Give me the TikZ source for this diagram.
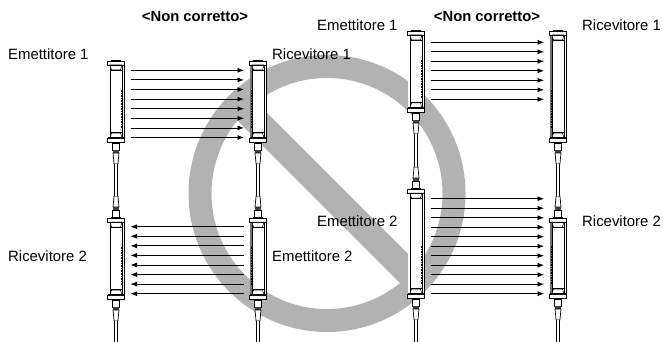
\documentclass[tikz,border=0pt]{standalone}
\usepackage{fontspec}
\setmainfont{Liberation Sans}
\usetikzlibrary{arrows.meta}

\tikzset{
  endcap/.pic={
    \draw[line width=.7,fill=white] (-8.6,0) rectangle (8.6,4);
    \fill[black] (-5,-1) rectangle (5,0);
    \draw[line width=.5,fill=white] (-6,4) -- (6,4) -- (4.5,9) -- (-4.5,9) -- cycle;
    \draw[line width=1] (-6,9.3) -- (6,9.3);
    \draw[line width=1] (-8,4.2) -- (8,4.2);
  },
  plug/.pic={
    \fill[black] (-1.8,0) rectangle (1.8,1);
    \draw[line width=.7,fill=white] (-3.4,1) rectangle (3.4,8);
    \fill[black!75] (-3.4,8) rectangle (3.4,11);
    \draw[line width=.7,fill=white] (-3,11) -- (3,11) -- (1.9,22) -- (-1.9,22) -- cycle;
  }
}

\begin{document}
\begin{tikzpicture}[x=1pt,y=-1pt,
  sensor/.style={draw=black, line width=.9, fill=white, rectangle, inner sep=0, minimum width=16},
  ring/.style={draw=black!30, line width=23, circle, inner sep=0, outer sep=0, minimum size=254},
  slash/.style={draw=black!30, line width=26.5},
  cable/.style={draw=black, line width=.7, double=white, double distance=2.4},
  beam/.style={-{Latex[length=6.5,width=5]}, draw=black, line width=.8},
  lbl/.style={inner sep=0, anchor=west, font=\fontsize{14.9}{16}\selectfont},
  head/.style={inner sep=0, font=\fontsize{14.8}{16}\selectfont\bfseries}]
\useasboundingbox (0,0) rectangle (663,342);

\node[ring] (ring) at (327,193.5) {};
\draw[slash] ([shift={(1,-1)}]ring.135) -- ([shift={(1,-1)}]ring.-45);

\foreach \name/\x/\t/\b/\o/\c in {s1/116/61/142/5.7/white, s2/258/61/142/-5.7/black!55, s3/116/218/299/5.7/white, s4/258/218/299/-5.7/black!55,
    s5/416/31/112/5.7/white, s6/558/31/142/-5.7/black!55, s7/416/189/298/5.7/white, s8/558/218/298/-5.7/black!55} {
  \node[sensor, minimum height=\b-\t] (\name) at (\x,{(\t+\b)/2}) {};
  \draw[\c, line width=1.6] (\x-7,\t) -- (\x-7,\b);
  \draw[line width=.4] (\x-6,\t) -- (\x-6,\b) (\x+6,\t) -- (\x+6,\b);
  \draw[line width=2.2, dash pattern=on 1.6 off 1] (\x+\o,\b-52) -- (\x+\o,\b-14);
  \pic at (\x,\t) {endcap};
  \pic[yscale=-1] at (\x,\b) {endcap};
  \pic at (\x,\b) {plug};
  \coordinate (\name-dn) at (\x,\b+22);
}
\foreach \name/\x/\t in {s3/116/218, s4/258/218, s7/416/189, s8/558/218} {
  \pic[yscale=-1] at (\x,\t) {plug};
  \coordinate (\name-up) at (\x,\t-22);
}

\coordinate (e3) at (116,342);
\coordinate (e4) at (258,342);
\coordinate (e7) at (416,342);
\coordinate (e8) at (558,342);
\draw[cable] (s1-dn) -- (s3-up);
\draw[cable] (s2-dn) -- (s4-up);
\draw[cable] (s5-dn) -- (s7-up);
\draw[cable] (s6-dn) -- (s8-up);
\draw[cable] (s3-dn) -- (e3);
\draw[cable] (s4-dn) -- (e4);
\draw[cable] (s7-dn) -- (e7);
\draw[cable] (s8-dn) -- (e8);

\foreach \i in {0,...,7} {
  \coordinate (a\i) at (130.5,70.3+9.6*\i);
  \coordinate (b\i) at (244,70.3+9.6*\i);
  \draw[beam] (a\i) -- (b\i);
  \coordinate (c\i) at (244,226.7+9.57*\i);
  \coordinate (d\i) at (130.5,226.7+9.57*\i);
  \draw[beam] (c\i) -- (d\i);
}
\foreach \i in {0,...,6} {
  \coordinate (f\i) at (430.5,42.3+9.5*\i);
  \coordinate (g\i) at (544,42.3+9.5*\i);
  \draw[beam] (f\i) -- (g\i);
}
\foreach \i in {0,...,10} {
  \coordinate (h\i) at (430.5,198.7+9.5*\i);
  \coordinate (k\i) at (544,198.7+9.5*\i);
  \draw[beam] (h\i) -- (k\i);
}

\node[head] (t1) at (195,16) {<Non corretto>};
\node[head] (t2) at (487,16) {<Non corretto>};
\node[lbl] (l1) at (8,54) {Emettitore 1};
\node[lbl] (l2) at (272,54) {Ricevitore 1};
\node[lbl] (l3) at (8,256) {Ricevitore 2};
\node[lbl] (l4) at (272,256) {Emettitore 2};
\node[lbl] (l5) at (317,25) {Emettitore 1};
\node[lbl] (l6) at (582,25) {Ricevitore 1};
\node[lbl] (l7) at (317,221) {Emettitore 2};
\node[lbl] (l8) at (582,221) {Ricevitore 2};
\end{tikzpicture}
\end{document}
